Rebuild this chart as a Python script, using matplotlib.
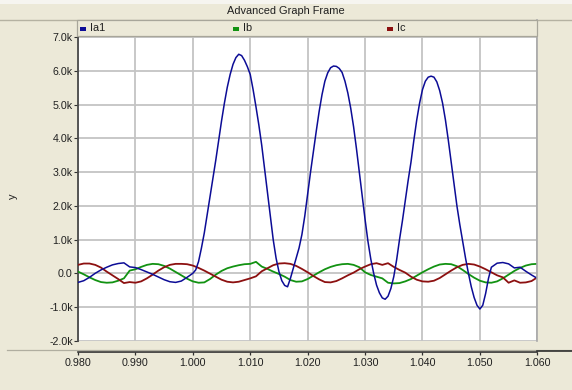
import numpy as np
import matplotlib
matplotlib.use("Agg")
import matplotlib.pyplot as plt
from matplotlib.lines import Line2D
from matplotlib.patches import Rectangle
from matplotlib.ticker import FuncFormatter

plt.rcParams['font.family'] = ['Liberation Sans', 'DejaVu Sans']

# ---- data (currents in kA) ----
# Ia1: pre-fault at 1 ms, fault period at 0.5 ms, tail at 1 ms
ia_pre = [-0.27, -0.22, -0.12, 0.00, 0.10, 0.18, 0.25, 0.29, 0.31, 0.19,
          0.17, 0.11, 0.04, -0.03, -0.11, -0.19, -0.25, -0.27, -0.23, -0.12]
ia_fault = [0.00, 0.10, 0.35, 0.75, 1.20, 1.75, 2.28, 2.82, 3.36, 3.95,
            4.52, 5.05, 5.52, 5.90, 6.20, 6.40, 6.50, 6.46, 6.32, 6.13,
            5.90, 5.45, 4.94, 4.40, 3.80, 3.10, 2.40, 1.70, 1.00, 0.45,
            0.05, -0.22, -0.36, -0.40, -0.15, 0.15, 0.45, 0.75, 1.15, 1.70,
            2.35, 3.00, 3.62, 4.22, 4.80, 5.30, 5.70, 5.95, 6.10, 6.15,
            6.14, 6.08, 5.96, 5.70, 5.35, 4.90, 4.35, 3.70, 3.00, 2.30,
            1.60, 0.95, 0.42, 0.00, -0.35, -0.58, -0.73, -0.77, -0.68, -0.45,
            -0.10, 0.40, 1.00, 1.55, 2.15, 2.75, 3.30, 3.95, 4.55, 5.05,
            5.45, 5.70, 5.82, 5.85, 5.82, 5.68, 5.42, 5.05, 4.55, 3.95,
            3.30, 2.65, 2.00, 1.45, 0.95, 0.45, 0.00, -0.40, -0.72, -0.95,
            -1.06, -0.95, -0.60, -0.15, 0.18]
ia_tail = [0.30, 0.32, 0.28, 0.16, 0.18, 0.06, -0.05, -0.15]

# Ib and Ic sampled every 1 ms from 0.980 s
ib = [0.05, -0.03, -0.12, -0.20, -0.26, -0.28, -0.27, -0.22, -0.15, 0.08,
      0.12, 0.19, 0.25, 0.28, 0.27, 0.22, 0.14, 0.04, -0.06, -0.16,
      -0.24, -0.28, -0.27, -0.17, -0.04, 0.07, 0.15, 0.20, 0.24, 0.27,
      0.28, 0.34, 0.20, 0.13, 0.05, -0.02, -0.10, -0.20, -0.25, -0.24,
      -0.17, -0.07, 0.03, 0.12, 0.19, 0.24, 0.27, 0.28, 0.25, 0.18,
      0.03, -0.05, -0.10, -0.15, -0.28, -0.30, -0.29, -0.24, -0.17, -0.07,
      0.03, 0.12, 0.20, 0.26, 0.28, 0.27, 0.21, 0.10, -0.02, -0.13,
      -0.22, -0.27, -0.28, -0.24, -0.15, -0.04, 0.07, 0.16, 0.23, 0.27,
      0.28]
ic = [0.25, 0.29, 0.29, 0.25, 0.17, 0.05, -0.06, -0.17, -0.29, -0.26,
      -0.28, -0.24, -0.15, -0.04, 0.08, 0.18, 0.25, 0.28, 0.28, 0.27,
      0.23, 0.16, 0.08, -0.01, -0.10, -0.19, -0.25, -0.27, -0.25, -0.20,
      -0.15, -0.09, 0.06, 0.15, 0.24, 0.29, 0.30, 0.28, 0.22, 0.13,
      0.03, -0.08, -0.18, -0.26, -0.27, -0.23, -0.15, -0.06, 0.02, 0.12,
      0.20, 0.27, 0.30, 0.25, 0.30, 0.19, 0.10, 0.02, -0.10, -0.19,
      -0.24, -0.25, -0.22, -0.14, -0.03, 0.08, 0.18, 0.25, 0.28, 0.26,
      0.20, 0.12, 0.03, -0.06, -0.12, -0.28, -0.21, -0.28, -0.27, -0.23,
      -0.12]

series_names = ["Ia1", "Ib", "Ic"]
series_colors = ["#0c0c96", "#129212", "#8c1010"]
x_ticks = [0.980, 0.990, 1.000, 1.010, 1.020, 1.030, 1.040, 1.050, 1.060]
y_ticks = [-2000, -1000, 0, 1000, 2000, 3000, 4000, 5000, 6000, 7000]

t_ia = np.concatenate([
    0.980 + 0.001 * np.arange(len(ia_pre)),
    1.000 + 0.0005 * np.arange(len(ia_fault)),
    1.053 + 0.001 * np.arange(len(ia_tail)),
])
y_ia = np.array(ia_pre + ia_fault + ia_tail) * 1000
t_bc = 0.980 + 0.001 * np.arange(len(ib))

# ---- figure ----
W, H = 572, 390
BG = "#ECE9D8"
fig = plt.figure(figsize=(W / 100, H / 100), dpi=100, facecolor=BG)


def fx(x):
    return x / W


def fy(y):
    return 1 - y / H


# frame decorations
fig.patches.append(Rectangle((0, fy(4)), 1, 4 / H, transform=fig.transFigure,
                             facecolor="#F6F5F0", edgecolor="none", zorder=0))
fig.lines.append(Line2D([fx(0), fx(W)], [fy(19.5), fy(19.5)],
                        transform=fig.transFigure, color="#B5B2A2", lw=1.0))
fig.text(0.5, fy(11.5), "Advanced Graph Frame", ha="center", va="center",
         fontsize=7.9, color="#202020")

L, R, T, B = 78, 537.3, 37.4, 340.7
ax = fig.add_axes([fx(L), fy(B), (R - L) / W, (B - T) / H])
ax.set_facecolor("white")

ax.plot(t_ia, y_ia, color=series_colors[0], lw=1.1, zorder=5)
ax.plot(t_bc, np.array(ib) * 1000, color=series_colors[1], lw=1.3, zorder=4)
ax.plot(t_bc, np.array(ic) * 1000, color=series_colors[2], lw=1.3, zorder=4)

ax.set_xlim(x_ticks[0], x_ticks[-1])
ax.set_ylim(y_ticks[0], y_ticks[-1])
ax.set_xticks(x_ticks)
ax.set_yticks(y_ticks)
ax.xaxis.set_major_formatter(FuncFormatter(lambda v, p: f"{v:.3f}"))
ax.yaxis.set_major_formatter(
    FuncFormatter(lambda v, p: "0.0" if abs(v) < 1e-9 else f"{v / 1000:.1f}k"))
ax.grid(True, color="#C4C4C4", lw=1.3, zorder=1)
ax.set_axisbelow(True)

for s in ("top", "right"):
    ax.spines[s].set_visible(False)
ax.spines["left"].set_color("#4a4a4a")
ax.spines["left"].set_linewidth(1.3)
ax.spines["bottom"].set_position(("outward", 7.8))
ax.spines["bottom"].set_color("#303030")
ax.spines["bottom"].set_linewidth(1.2)

ax.tick_params(axis="y", direction="out", length=3, width=0.8, pad=0.8,
               colors="#303030", labelsize=7.7, labelcolor="#202020")
ax.tick_params(axis="x", direction="out", length=2.5, width=0.9, pad=1.8,
               colors="#303030", labelsize=7.7, labelcolor="#202020")

ax.set_ylabel("y", fontsize=7.9, color="#202020", labelpad=0)
ax.yaxis.set_label_coords(fx(18 - L) / ((R - L) / W), (B - 196) / (B - T))

# right plot border and axis line extension
fig.lines.append(Line2D([fx(R), fx(R)], [fy(20), fy(B)],
                        transform=fig.transFigure, color="#A8A8A8", lw=1.2))
fig.lines.append(Line2D([fx(7), fx(W)], [fy(349.5), fy(349.5)],
                        transform=fig.transFigure, color="#B0AEA0", lw=0.9))
fig.lines.append(Line2D([fx(R), fx(W)], [fy(351.4), fy(351.4)],
                        transform=fig.transFigure, color="#303030", lw=1.2))

# legend bar
fig.patches.append(Rectangle((fx(77), fy(36)), (R - 77) / W, 16 / H,
                             transform=fig.transFigure, facecolor=BG,
                             edgecolor="#A8A69A", lw=0.9, zorder=3))
col_w = (R - 77) / 3
for i, (name, col) in enumerate(zip(series_names, series_colors)):
    x0 = 80 + i * col_w
    fig.patches.append(Rectangle((fx(x0), fy(30.5)), 6 / W, 4 / H,
                                 transform=fig.transFigure, facecolor=col,
                                 edgecolor="none", zorder=4))
    fig.text(fx(x0 + 10), fy(28.3), name, ha="left", va="center",
             fontsize=7.9, color="#202020", zorder=5)
# focus underline on the last entry
x_ul = 80 + 2 * col_w + 10
fig.lines.append(Line2D([fx(x_ul), fx(x_ul + 7)], [fy(33.5), fy(33.5)],
                        transform=fig.transFigure, color="#202020", lw=0.7))

fig.savefig("out.png", dpi=100, facecolor=BG)
